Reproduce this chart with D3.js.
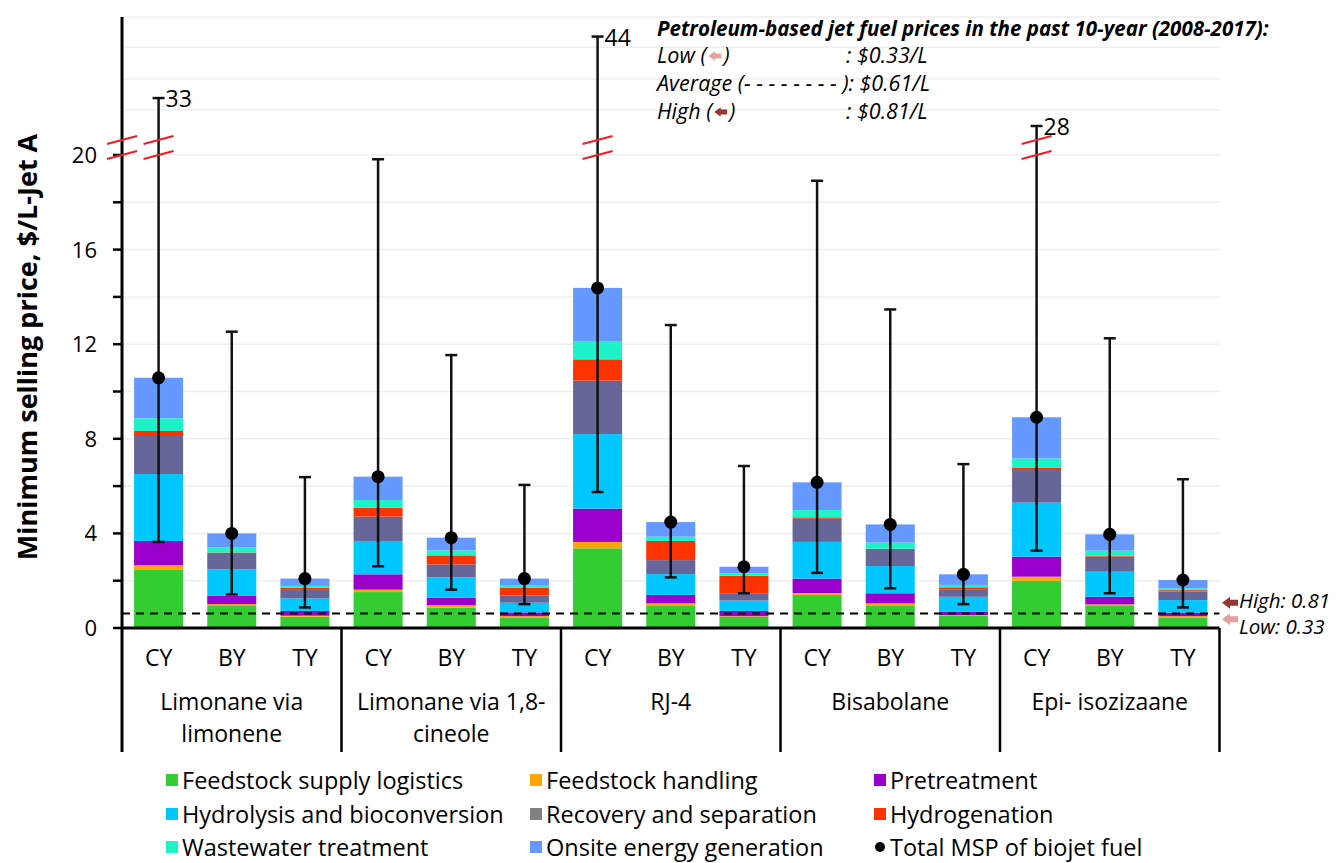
<!DOCTYPE html>
<meta charset="utf-8">
<script src="https://d3js.org/d3.v7.min.js"></script>
<style>
  body { margin: 0; background: #fff; }
  text { font-family: "Open Sans", Lato, sans-serif; fill: #000; }
</style>
<div id="chart"></div>
<script>
// groups, scenarios
const groups = ["Limonane via limonene", "Limonane via 1,8-cineole", "RJ-4", "Bisabolane", "Epi- isozizaane"];
const groupLines = [["Limonane via", "limonene"], ["Limonane via 1,8-", "cineole"], ["RJ-4"], ["Bisabolane"], ["Epi- isozizaane"]];
const scenarios = ["CY", "BY", "TY"];

// cost components, $/L (one value per bar, 5 groups x CY/BY/TY)
const components = ["Feedstock supply logistics", "Feedstock handling", "Pretreatment",
  "Hydrolysis and bioconversion", "Recovery and separation", "Hydrogenation",
  "Wastewater treatment", "Onsite energy generation"];
const feedstockSupply = [2.48, 0.93, 0.48, 1.52, 0.86, 0.45, 3.37, 0.96, 0.48, 1.40, 0.96, 0.51, 2.00, 0.93, 0.45];
const feedstockHandling = [0.17, 0.08, 0.04, 0.10, 0.10, 0.05, 0.27, 0.08, 0.02, 0.08, 0.08, 0.04, 0.17, 0.07, 0.05];
const pretreatment = [1.03, 0.36, 0.20, 0.65, 0.32, 0.16, 1.41, 0.36, 0.22, 0.61, 0.43, 0.14, 0.85, 0.32, 0.15];
const hydrolysis = [2.83, 1.11, 0.53, 1.41, 0.86, 0.41, 3.15, 0.88, 0.44, 1.55, 1.15, 0.63, 2.28, 1.06, 0.53];
const recovery = [1.65, 0.65, 0.36, 1.03, 0.55, 0.30, 2.26, 0.59, 0.31, 0.98, 0.68, 0.32, 1.38, 0.64, 0.36];
const hydrogenation = [0.17, 0.06, 0.10, 0.38, 0.38, 0.34, 0.90, 0.81, 0.74, 0.06, 0.05, 0.08, 0.09, 0.04, 0.06];
const wastewater = [0.54, 0.22, 0.07, 0.32, 0.21, 0.08, 0.75, 0.18, 0.10, 0.31, 0.26, 0.10, 0.40, 0.21, 0.08];
const onsiteEnergy = [1.71, 0.59, 0.31, 0.99, 0.54, 0.30, 2.27, 0.62, 0.28, 1.17, 0.77, 0.45, 1.74, 0.69, 0.35];

// total MSP and its range
const totalMSP = [10.58, 4.00, 2.09, 6.40, 3.82, 2.09, 14.38, 4.48, 2.59, 6.16, 4.38, 2.27, 8.91, 3.96, 2.03];
const mspLow = [3.64, 1.42, 0.87, 2.61, 1.62, 1.01, 5.75, 2.14, 1.47, 2.33, 1.68, 1.01, 3.27, 1.47, 0.87];
const mspHigh = [33, 12.53, 6.38, 19.82, 11.54, 6.05, 44, 12.81, 6.85, 18.91, 13.47, 6.93, 28, 12.25, 6.29];

// petroleum jet fuel prices
const jetLow = 0.33, jetAvg = 0.61, jetHigh = 0.81;

const yTicks = [0, 4, 8, 12, 16, 20];
const yMinor = [2, 6, 10, 14, 18];
const upperGrid = [30.9, 36.4, 42.1, 47.5];

const colors = ["#33cc33", "#ffa500", "#9900cc", "#00c8ff", "#666699", "#ff3300", "#1df2c8", "#6699ff"];
const legendColors = ["#33cc33", "#ffa500", "#9900cc", "#00c8ff", "#808080", "#ff3300", "#1df2c8", "#6699ff"];

const series = [feedstockSupply, feedstockHandling, pretreatment, hydrolysis, recovery, hydrogenation, wastewater, onsiteEnergy];

const W = 1337, H = 863;
const left = 122, right = 1219.5, zeroY = 628, boxBottom = 752;

const svg = d3.select("#chart").append("svg")
  .attr("width", W).attr("height", H);

// bar keys
const keys = [];
groups.forEach((g, gi) => scenarios.forEach(s => keys.push(gi + "-" + s)));

const table = keys.map((k, i) => {
  const row = { key: k };
  components.forEach((c, ci) => row[c] = series[ci][i]);
  return row;
});

const x = d3.scaleBand().domain(keys).range([left, right])
  .paddingInner(0.33).paddingOuter(0.165);
const xg = d3.scaleBand().domain(groups).range([left, right]);

// broken axis: 0-20 below the break, 24.6-47.5 compressed above
const y = d3.scaleLinear().domain([0, 20, 24.6, 47.5]).range([zeroY, 155, 145, 17]);

// grid
svg.append("g").selectAll("line")
  .data(d3.range(2, 21, 2).concat(upperGrid))
  .join("line")
  .attr("x1", left).attr("x2", right)
  .attr("y1", d => y(d)).attr("y2", d => y(d))
  .attr("stroke", "#efefef").attr("stroke-width", 1.5);

// stacked bars
const stacked = d3.stack().keys(components)(table);
svg.append("g").selectAll("g")
  .data(stacked)
  .join("g")
  .attr("fill", (d, i) => colors[i])
  .selectAll("rect")
  .data(d => d)
  .join("rect")
  .attr("x", d => x(d.data.key))
  .attr("width", x.bandwidth())
  .attr("y", d => y(d[1]))
  .attr("height", d => y(d[0]) - y(d[1]));

// average jet fuel price
svg.append("line")
  .attr("x1", left).attr("x2", right)
  .attr("y1", y(jetAvg)).attr("y2", y(jetAvg))
  .attr("stroke", "#000").attr("stroke-width", 2)
  .attr("stroke-dasharray", "8,6");

// error bars
const cx = i => x(keys[i]) + x.bandwidth() / 2;
const eb = svg.append("g").attr("stroke", "#111").attr("stroke-width", 2.5);
eb.selectAll(".v").data(keys).join("line")
  .attr("x1", (d, i) => cx(i)).attr("x2", (d, i) => cx(i))
  .attr("y1", (d, i) => y(mspLow[i])).attr("y2", (d, i) => y(mspHigh[i]));
eb.selectAll(".lo").data(keys).join("line")
  .attr("x1", (d, i) => cx(i) - 6).attr("x2", (d, i) => cx(i) + 6)
  .attr("y1", (d, i) => y(mspLow[i])).attr("y2", (d, i) => y(mspLow[i]));
eb.selectAll(".hi").data(keys).join("line")
  .attr("x1", (d, i) => cx(i) - 6).attr("x2", (d, i) => cx(i) + 6)
  .attr("y1", (d, i) => y(mspHigh[i])).attr("y2", (d, i) => y(mspHigh[i]));

svg.append("g").selectAll("circle").data(keys).join("circle")
  .attr("cx", (d, i) => cx(i)).attr("cy", (d, i) => y(totalMSP[i]))
  .attr("r", 6.5).attr("fill", "#000");

// labels on the broken error bars
const broken = keys.map((k, i) => i).filter(i => mspHigh[i] > 20);
svg.append("g").selectAll("text").data(broken).join("text")
  .attr("x", i => cx(i) + 7).attr("y", i => y(mspHigh[i]) + 9)
  .attr("font-size", 23)
  .text(i => mspHigh[i]);

// y axis
svg.append("line").attr("x1", left).attr("x2", left)
  .attr("y1", y(47.5)).attr("y2", boxBottom)
  .attr("stroke", "#000").attr("stroke-width", 3);
svg.append("g").selectAll("line").data(yTicks.concat(yMinor)).join("line")
  .attr("x1", left - 9).attr("x2", left)
  .attr("y1", d => y(d)).attr("y2", d => y(d))
  .attr("stroke", "#000").attr("stroke-width", 2.5);
svg.append("g").selectAll("text").data(yTicks).join("text")
  .attr("x", left - 25).attr("y", d => y(d) + 8)
  .attr("text-anchor", "end").attr("font-size", 22)
  .text(d => d);

svg.append("text")
  .attr("transform", "translate(37,347) rotate(-90)")
  .attr("text-anchor", "middle").attr("font-size", 27).attr("font-weight", "bold")
  .text("Minimum selling price, $/L-Jet A");

// category axis box
svg.append("line").attr("x1", left).attr("x2", right)
  .attr("y1", zeroY).attr("y2", zeroY)
  .attr("stroke", "#000").attr("stroke-width", 3);
svg.append("g").selectAll("line").data(groups.slice(1).map(g => xg(g)).concat([right])).join("line")
  .attr("x1", d => d).attr("x2", d => d)
  .attr("y1", zeroY).attr("y2", boxBottom)
  .attr("stroke", "#000").attr("stroke-width", 2.5);

svg.append("g").selectAll("text").data(keys).join("text")
  .attr("x", d => x(d) + x.bandwidth() / 2).attr("y", 666)
  .attr("text-anchor", "middle").attr("font-size", 23)
  .text(d => d.split("-")[1]);

const gl = svg.append("g").selectAll("text").data(groups).join("text")
  .attr("x", d => xg(d) + xg.bandwidth() / 2).attr("y", 710)
  .attr("text-anchor", "middle").attr("font-size", 23);
gl.selectAll("tspan").data((d, i) => groupLines[i]).join("tspan")
  .attr("x", function () { return this.parentNode.getAttribute("x"); })
  .attr("dy", (d, i) => i ? 32 : 0)
  .text(d => d);

// break marks
const slash = (g, cxp, cy) => g.append("line")
  .attr("x1", cxp - 15).attr("y1", cy + 4).attr("x2", cxp + 15).attr("y2", cy - 4);
const bk = svg.append("g").attr("stroke", "#ee1c25").attr("stroke-width", 2);
[left].concat(broken.map(cx)).forEach(px => {
  slash(bk, px, y(20));
  slash(bk, px, y(20) - 15);
});

// block arrows
const arrow = (px, py, s, color) => svg.append("path")
  .attr("d", `M${px},${py} l${8 * s},${-6 * s} v${3 * s} h${8 * s} v${6 * s} h${-8 * s} v${3 * s} z`)
  .attr("fill", color);
const darkRed = "#953735", pink = "#e6a0a0";

arrow(1222, y(jetHigh) - 6, 1, darkRed);
arrow(1222, y(jetLow) - 1, 1, pink);
svg.append("text").attr("x", 1239).attr("y", y(jetHigh) - 1)
  .attr("font-size", 20.5).attr("font-style", "italic").text("High: " + jetHigh);
svg.append("text").attr("x", 1239).attr("y", y(jetLow) + 14)
  .attr("font-size", 20.5).attr("font-style", "italic").text("Low: " + jetLow);

// petroleum price note
const nx = 657, noteSize = 21.5;
svg.append("text").attr("x", nx).attr("y", 36)
  .attr("font-size", 20.5).attr("font-weight", "bold").attr("font-style", "italic")
  .text("Petroleum-based jet fuel prices in the past 10-year (2008-2017):");

function noteRow(label, yy, color, value) {
  const t = svg.append("text").attr("x", nx).attr("y", yy)
    .attr("font-size", noteSize).attr("font-style", "italic").text(label + " (");
  const w = t.node().getComputedTextLength();
  arrow(nx + w + 2, yy - 7, 0.8, color);
  svg.append("text").attr("x", nx + w + 17).attr("y", yy)
    .attr("font-size", noteSize).attr("font-style", "italic").text(")");
  svg.append("text").attr("x", 846).attr("y", yy)
    .attr("font-size", noteSize).attr("font-style", "italic").text(": $" + value.toFixed(2) + "/L");
}
noteRow("Low", 63, pink, jetLow);
svg.append("text").attr("x", nx).attr("y", 91)
  .attr("font-size", noteSize).attr("font-style", "italic")
  .text("Average (- - - - - - - - ): $" + jetAvg.toFixed(2) + "/L");
noteRow("High", 119, darkRed, jetHigh);

// legend
const legendItems = components.map((c, i) => ({ name: c, color: legendColors[i] }))
  .concat([{ name: "Total MSP of biojet fuel", dot: true }]);
const colX = [166, 530, 874], rowY = [789, 823, 856];
const lg = svg.append("g").selectAll("g").data(legendItems).join("g")
  .attr("transform", (d, i) => `translate(${colX[i % 3]},${rowY[Math.floor(i / 3)]})`);
lg.filter(d => !d.dot).append("rect")
  .attr("x", 0).attr("y", -15).attr("width", 12).attr("height", 12)
  .attr("fill", d => d.color);
lg.filter(d => d.dot).append("circle")
  .attr("cx", 6).attr("cy", -9).attr("r", 5).attr("fill", "#000");
lg.append("text").attr("x", 16).attr("font-size", 23.5).text(d => d.name);
</script>
